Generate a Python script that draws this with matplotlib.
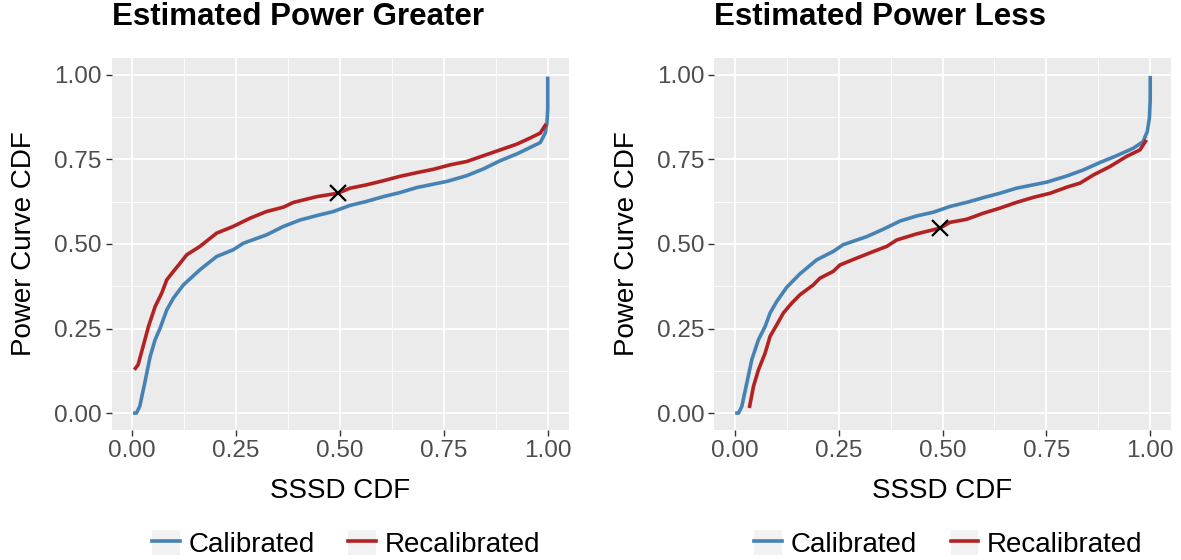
import matplotlib
matplotlib.use("Agg")
import matplotlib.pyplot as plt
from matplotlib.lines import Line2D
from matplotlib.patches import Rectangle
from matplotlib.ticker import MultipleLocator

plt.rcParams['font.family'] = ['Liberation Sans', 'DejaVu Sans']

# ---- data ----
greater_cal_x = [0.002, 0.010, 0.018, 0.030, 0.043, 0.055, 0.067, 0.083, 0.099, 0.123,
                 0.163, 0.203, 0.243, 0.267, 0.323, 0.364, 0.404, 0.444, 0.484, 0.524,
                 0.564, 0.604, 0.644, 0.685, 0.725, 0.757, 0.805, 0.845, 0.885, 0.925,
                 0.957, 0.982, 0.994, 0.998, 1.000, 1.000]
greater_cal_y = [0.000, 0.000, 0.020, 0.089, 0.167, 0.217, 0.251, 0.305, 0.340, 0.379,
                 0.424, 0.463, 0.483, 0.502, 0.527, 0.552, 0.571, 0.584, 0.596, 0.614,
                 0.626, 0.640, 0.652, 0.667, 0.677, 0.685, 0.702, 0.722, 0.746, 0.766,
                 0.785, 0.800, 0.828, 0.857, 0.897, 0.995]
greater_recal_x = [0.005, 0.014, 0.026, 0.039, 0.055, 0.071, 0.083, 0.099, 0.115, 0.131,
                   0.163, 0.203, 0.243, 0.283, 0.323, 0.364, 0.388, 0.444, 0.494, 0.524,
                   0.564, 0.604, 0.644, 0.685, 0.725, 0.765, 0.805, 0.845, 0.885, 0.925,
                   0.957, 0.982, 0.996]
greater_recal_y = [0.128, 0.143, 0.197, 0.256, 0.315, 0.355, 0.394, 0.419, 0.443, 0.468,
                   0.493, 0.532, 0.552, 0.576, 0.596, 0.609, 0.623, 0.640, 0.650, 0.665,
                   0.675, 0.687, 0.700, 0.711, 0.721, 0.734, 0.744, 0.761, 0.778, 0.795,
                   0.813, 0.828, 0.855]
greater_mark = (0.495, 0.651)

less_cal_x = [0.001, 0.009, 0.017, 0.029, 0.041, 0.057, 0.073, 0.085, 0.101, 0.125,
              0.157, 0.197, 0.237, 0.261, 0.318, 0.358, 0.398, 0.438, 0.478, 0.518,
              0.558, 0.598, 0.638, 0.678, 0.719, 0.751, 0.799, 0.839, 0.879, 0.919,
              0.959, 0.983, 0.993, 0.998, 1.000, 1.000]
less_cal_y = [0.000, 0.000, 0.020, 0.089, 0.158, 0.217, 0.256, 0.296, 0.330, 0.372,
              0.412, 0.453, 0.478, 0.498, 0.522, 0.544, 0.568, 0.583, 0.594, 0.611,
              0.623, 0.637, 0.650, 0.665, 0.675, 0.683, 0.701, 0.719, 0.741, 0.761,
              0.783, 0.803, 0.833, 0.872, 0.926, 0.997]
less_recal_x = [0.035, 0.045, 0.057, 0.073, 0.085, 0.101, 0.117, 0.137, 0.157, 0.189,
                0.205, 0.237, 0.253, 0.293, 0.334, 0.366, 0.390, 0.438, 0.494, 0.518,
                0.558, 0.598, 0.638, 0.678, 0.719, 0.759, 0.799, 0.831, 0.863, 0.903,
                0.943, 0.975, 0.991]
less_recal_y = [0.015, 0.079, 0.128, 0.177, 0.227, 0.261, 0.296, 0.325, 0.350, 0.379,
                0.399, 0.419, 0.438, 0.458, 0.478, 0.493, 0.512, 0.530, 0.547, 0.564,
                0.573, 0.591, 0.606, 0.623, 0.638, 0.650, 0.668, 0.680, 0.704, 0.729,
                0.759, 0.778, 0.808]
less_mark = (0.494, 0.548)

ticks = [0.0, 0.25, 0.5, 0.75, 1.0]
tick_labels = ['0.00', '0.25', '0.50', '0.75', '1.00']

BLUE = '#4682B4'
RED = '#B22222'
LW = 2.6
W, H = 1181, 560


def style_axes(ax, title):
    ax.set_facecolor('#EBEBEB')
    for s in ax.spines.values():
        s.set_visible(False)
    ax.set_xlim(-0.05, 1.05)
    ax.set_ylim(-0.05, 1.05)
    ax.set_xticks(ticks)
    ax.set_xticklabels(tick_labels)
    ax.set_yticks(ticks)
    ax.set_yticklabels(tick_labels)
    ax.xaxis.set_minor_locator(MultipleLocator(0.125))
    ax.yaxis.set_minor_locator(MultipleLocator(0.125))
    ax.grid(True, which='major', color='white', linewidth=1.3)
    ax.grid(True, which='minor', color='white', linewidth=0.6)
    ax.tick_params(which='major', length=4, width=1, color='#333333',
                   labelsize=17.5, labelcolor='#4D4D4D', pad=3)
    ax.tick_params(which='minor', length=0)
    ax.set_axisbelow(True)
    ax.set_xlabel('SSSD CDF', fontsize=20, labelpad=12)
    ax.set_ylabel('Power Curve CDF', fontsize=20, labelpad=12)
    ax.set_title(title, fontsize=22.5, fontweight='bold', loc='left', pad=24)


fig = plt.figure(figsize=(W / 100, H / 100), dpi=100)
ax1 = fig.add_axes([111.5 / W, 130 / H, 457 / W, 372 / H])
ax2 = fig.add_axes([714 / W, 130 / H, 457 / W, 372 / H])

panels = [
    (ax1, 'Estimated Power Greater', greater_cal_x, greater_cal_y,
     greater_recal_x, greater_recal_y, greater_mark),
    (ax2, 'Estimated Power Less', less_cal_x, less_cal_y,
     less_recal_x, less_recal_y, less_mark),
]

for ax, title, cx, cy, rx, ry, mark in panels:
    style_axes(ax, title)
    ax.plot(cx, cy, color=BLUE, linewidth=LW, solid_capstyle='butt')
    ax.plot(rx, ry, color=RED, linewidth=LW, solid_capstyle='butt')
    ax.plot([mark[0]], [mark[1]], marker='x', color='black', markersize=11,
            markeredgewidth=1.6, linestyle='none')

    # ggplot-style legend under each panel
    key_bg = Rectangle((0, 0), 1, 1, facecolor='#F2F2F2', edgecolor='none')
    handles = [
        (key_bg, Line2D([], [], color=BLUE, linewidth=LW)),
        (key_bg, Line2D([], [], color=RED, linewidth=LW)),
    ]
    pos = ax.get_position()
    fig.legend(handles, ['Calibrated', 'Recalibrated'], ncol=2,
               loc='center', bbox_to_anchor=(pos.x0 + pos.width / 2 + 6 / W, 16 / H),
               frameon=False, fontsize=20, handlelength=1.0, handleheight=1.0,
               handletextpad=0.32, columnspacing=1.2, borderaxespad=0)

fig.savefig('out.png', dpi=100)
